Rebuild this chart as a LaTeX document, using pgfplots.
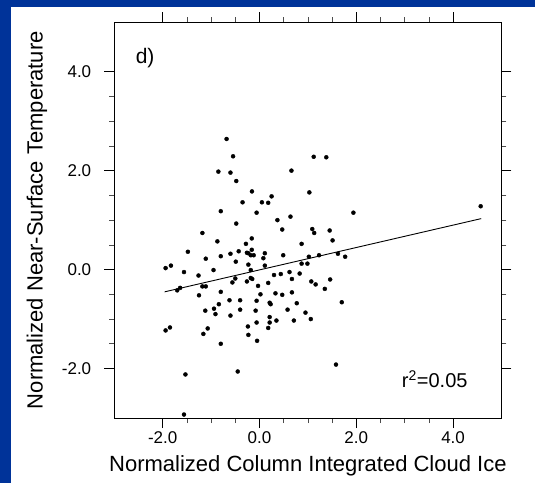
\documentclass[border=0pt]{standalone}
\usepackage{pgfplots}
\pgfplotsset{compat=1.18}
\usepackage{fontspec}
\setmainfont{Liberation Sans}
\definecolor{frameblue}{RGB}{0,51,153}
\begin{document}
\begin{tikzpicture}
\useasboundingbox (-114.3pt,-65pt) rectangle (420.7pt,418pt);
\fill[frameblue] (-114.3pt,-65pt) rectangle (420.7pt,418pt);
\fill[white] (-103pt,-65pt) rectangle (420.7pt,411.3pt);
\begin{axis}[
  at={(0pt,0pt)}, anchor=south west,
  scale only axis, width=387.2pt, height=395.8pt,
  xmin=-3, xmax=5, ymin=-3, ymax=5,
  xtick={-2,0,2,4}, ytick={-2,0,2,4},
  minor tick num=3,
  tick align=outside,
  major tick length=10pt, minor tick length=5pt,
  xticklabel pos=left, yticklabel pos=left,
  axis line style={line width=0.8pt},
  every tick/.style={black, line width=0.8pt},
  every minor tick/.style={black!70, line width=0.6pt},
  /pgf/number format/assume math mode=true,
  /pgf/number format/.cd, fixed, fixed zerofill, precision=1, /pgfplots/.cd,
  tick label style={font=\fontsize{17}{20}\selectfont},
  xticklabel style={inner sep=0pt, anchor=north, yshift=-3.6pt},
  yticklabel style={inner sep=0pt, anchor=east, xshift=-12.9pt},
  xlabel={Normalized Column Integrated Cloud Ice},
  ylabel={Normalized Near-Surface Temperature},
  label style={font=\fontsize{22}{26}\selectfont},
  xlabel style={at={(axis description cs:0.5,-0.1339)}, anchor=base},
  ylabel style={at={(axis description cs:-0.1849,0.5)}, anchor=base, rotate=0},
  clip=false,
]
\addplot[only marks, mark=*, mark size=2pt, black] table {
x y
-0.68 2.64
-0.546 2.29
-0.85 1.98
-0.60 1.96
-0.48 1.79
1.12 2.28
1.38 2.27
0.66 2.00
-0.156 1.58
1.03 1.56
-0.35 1.36
0.05 1.36
0.18 1.35
0.25 1.48
-0.80 1.18
-0.06 1.15
1.94 1.15
4.57 1.28
0.37 1.00
0.64 1.07
-0.48 0.93
0.47 0.81
1.09 0.82
1.13 0.74
1.45 0.79
1.51 0.59
-1.18 0.74
-0.87 0.57
-0.16 0.63
-0.28 0.52
0.87 0.52
-1.48 0.36
-0.43 0.37
-0.80 0.27
-0.60 0.32
-0.26 0.34
-0.23 0.33
-0.16 0.40
-0.18 0.29
-0.12 0.29
0.11 0.33
0.08 0.23
0.49 0.29
1.02 0.26
1.23 0.29
1.62 0.32
1.77 0.26
-1.11 0.22
-0.49 0.16
0.11 0.08
-0.23 0.10
0.87 0.12
0.99 0.12
-1.94 0.03
-1.83 0.08
-0.95 -0.01
-0.18 -0.01
-1.56 -0.05
0.62 -0.05
0.30 -0.11
0.44 -0.09
0.83 -0.08
-1.26 -0.12
-0.18 -0.17
-0.15 -0.19
-0.50 -0.18
0.67 -0.19
1.46 -0.20
-0.56 -0.26
-0.26 -0.24
0.18 -0.27
1.07 -0.24
1.16 -0.30
-1.18 -0.34
-1.11 -0.34
-0.03 -0.33
-1.64 -0.37
-1.70 -0.42
1.35 -0.39
-0.80 -0.45
0.67 -0.46
-1.25 -0.52
0.02 -0.50
0.33 -0.48
0.47 -0.51
-0.62 -0.62
-0.40 -0.62
-0.06 -0.63
-0.84 -0.70
0.21 -0.67
0.23 -0.70
0.77 -0.68
1.70 -0.66
-0.94 -0.79
-1.12 -0.83
-0.40 -0.81
-0.08 -0.83
0.58 -0.81
-0.91 -0.90
-0.60 -0.93
0.95 -0.87
0.21 -0.96
1.06 -1.00
0.35 -1.03
0.71 -1.03
0.21 -1.07
-0.06 -1.07
-1.94 -1.23
-1.85 -1.17
-1.07 -1.19
-0.24 -1.15
0.18 -1.18
-1.16 -1.30
-0.23 -1.32
-0.05 -1.44
-0.80 -1.50
1.58 -1.92
-0.45 -2.06
-1.53 -2.12
-1.56 -2.93
};
\addplot[black, line width=0.9pt] coordinates {(-1.96,-0.45) (4.58,1.03)};
\node[anchor=base west, font=\fontsize{21}{25}\selectfont, inner sep=0pt] at (axis cs:-2.56,4.17) {d)};
\node[anchor=base west, font=\fontsize{20}{24}\selectfont, inner sep=0pt] at (axis cs:2.94,-2.39) {r\textsuperscript{2}=0.05};
\end{axis}
\end{tikzpicture}
\end{document}
